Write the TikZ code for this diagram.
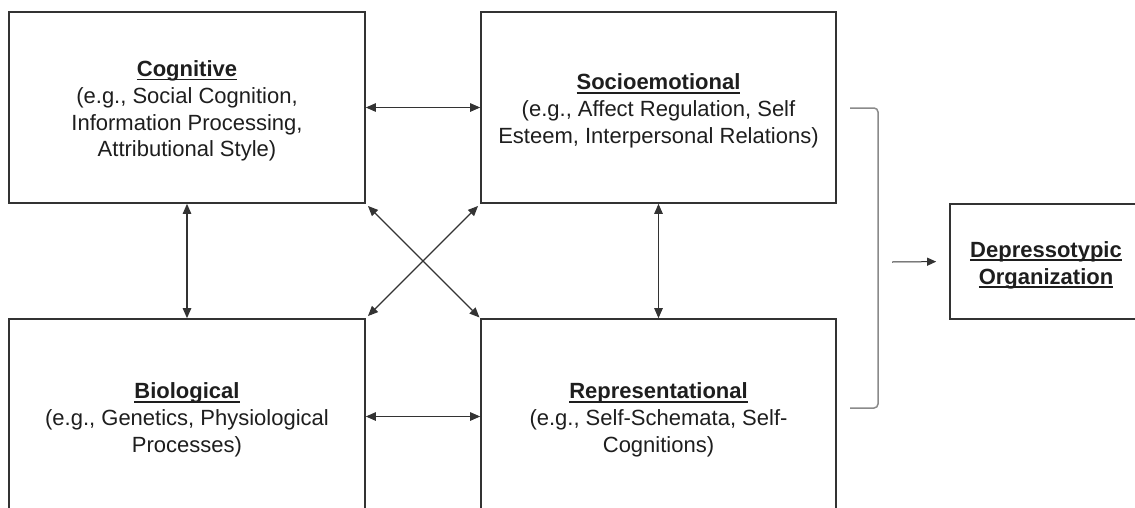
\documentclass[tikz,border=0pt]{standalone}
\usepackage{fontspec}
\setmainfont{Liberation Sans}
\usetikzlibrary{arrows.meta}
\definecolor{boxline}{HTML}{333333}
\definecolor{txt}{HTML}{1E1E1E}
\definecolor{brk}{HTML}{8A8A8A}
\tikzset{
  box/.style={draw=boxline, line width=1.7pt, rectangle, align=center, text=txt,
    font=\fontsize{22}{26.8}\selectfont, inner sep=0pt},
  arr/.style={draw=boxline, line width=1.1pt, {Triangle[length=10pt,width=8.5pt]}-{Triangle[length=10pt,width=8.5pt]}},
  oneway/.style={draw=boxline, line width=1pt, -{Triangle[length=9pt,width=8pt]}},
  bracket/.style={draw=brk, line width=1.5pt, rounded corners=4pt}
}
\newcommand{\ttl}[1]{\setbox0=\hbox{\textbf{#1}}\rlap{\rule[-3.6pt]{\wd0}{1.5pt}}\box0}
\newcommand{\topgap}{\rule{0pt}{23pt}}
\begin{document}
\begin{tikzpicture}[x=1pt,y=-1pt]
\useasboundingbox (0,0) rectangle (1135,507);
\clip (0,0) rectangle (1135,507);
\fill[white] (0,0) rectangle (1135,507);
\node[box, minimum width=356pt, minimum height=191pt] (cog) at (187,107.5)
  {\topgap\ttl{Cognitive}\\(e.g., Social Cognition,\\Information Processing,\\Attributional Style)};
\node[box, minimum width=355pt, minimum height=191pt] (soc) at (658.5,107.5)
  {\topgap\ttl{Socioemotional}\\(e.g., Affect Regulation, Self\\Esteem, Interpersonal Relations)};
\node[box, minimum width=356pt, minimum height=195pt] (bio) at (187,416.5)
  {\topgap\ttl{Biological}\\(e.g., Genetics, Physiological\\Processes)};
\node[box, minimum width=355pt, minimum height=195pt] (rep) at (658.5,416.5)
  {\topgap\ttl{Representational}\\(e.g., Self-Schemata, Self-\\Cognitions)};
\node[box, minimum width=192pt, minimum height=115pt] (dep) at (1046,261.5)
  {\topgap\ttl{Depressotypic}\\\ttl{Organization}};
\draw[arr] (cog.east) -- (soc.west);
\draw[arr] (bio.east) -- (rep.west);
\draw[arr] (cog.south) -- (bio.north);
\draw[arr] (soc.south) -- (rep.north);
\draw[arr, shorten <=3pt, shorten >=1pt] (cog.south east) -- (rep.north west);
\draw[arr, shorten <=3pt, shorten >=3pt] (soc.south west) -- (bio.north east);
\coordinate (bt) at (850,108);
\coordinate (bb) at (850,408);
\draw[bracket] (bt) -- (878,108) -- (878,408) -- (bb);
\coordinate (src) at (892,262);
\draw[oneway, shorten >=13pt] (src) -- (dep.west);
\end{tikzpicture}
\end{document}
